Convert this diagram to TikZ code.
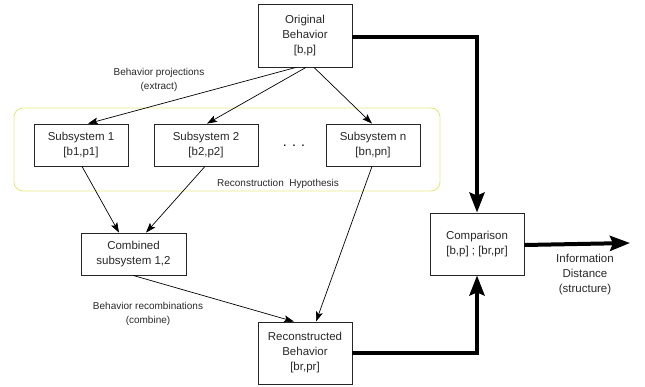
\documentclass[tikz,border=0pt]{standalone}
\usepackage{fontspec}
\setmainfont{Liberation Sans}
\usetikzlibrary{arrows.meta}
\definecolor{hypyellow}{RGB}{232,232,130}
\definecolor{txt}{RGB}{40,40,40}
\tikzset{
  blk/.style={draw=black!85, line width=0.8pt, fill=white, align=center, inner sep=0pt,
    font=\fontsize{11.5}{15}\selectfont, text=txt},
  lbl/.style={align=center, inner sep=0pt, font=\fontsize{10}{14}\selectfont, text=txt},
  thin/.style={draw=black, line width=0.7pt, -{Stealth[length=10pt,width=7pt,inset=2pt]}},
  thick/.style={draw=black, line width=4pt},
  thickarr/.style={thick, -{Stealth[length=20pt,width=15pt,inset=3pt]}}
}
\begin{document}
\begin{tikzpicture}[x=1pt,y=-1pt]
\useasboundingbox (0,0) rectangle (645,386);
% hypothesis frame
\node[draw=hypyellow, line width=0.9pt, rounded corners=9pt, minimum width=426pt, minimum height=83pt, inner sep=0pt] (hyp) at (227,149.5) {};
\node[lbl] (hyplbl) at (278,184) {Reconstruction\ \ Hypothesis};
% boxes
\node[blk, minimum width=94pt, minimum height=63pt] (orig) at (305,35.5) {Original\\Behavior\\{[b,p]}};
\node[blk, minimum width=94pt, minimum height=42pt] (s1) at (81,145) {Subsystem 1\\{[b1,p1]}};
\node[blk, minimum width=104pt, minimum height=42pt] (s2) at (206,145) {Subsystem 2\\{[b2,p2]}};
\node[blk, minimum width=94pt, minimum height=42pt] (sn) at (373,145) {Subsystem n\\{[bn,pn]}};
\node[inner sep=0pt, font=\fontsize{14}{14}\selectfont] (dots) at (294,146) {. . .};
\node[blk, minimum width=105pt, minimum height=42pt] (comb) at (133.5,254) {Combined\\subsystem 1,2};
\node[blk, minimum width=94pt, minimum height=62pt] (rec) at (305,353) {Reconstructed\\Behavior\\{[br,pr]}};
\node[blk, minimum width=94pt, minimum height=62pt] (cmp) at (477,244) {Comparison\\{[b,p] ; [br,pr]}};
% labels
\node[lbl] (proj) at (159,80) {Behavior projections\\(extract)};
\node[lbl] (recomb) at (148,314) {Behavior recombinations\\(combine)};
\node[blk, draw=none, fill=none] (info) at (585,275) {Information\\Distance\\(structure)};
\coordinate (out) at (630,243);
% thin arrows
\draw[thin] ([xshift=-9pt]orig.south) -- ([xshift=7pt]s1.north);
\draw[thin] ([xshift=1pt]orig.south) -- ([xshift=1pt]s2.north);
\draw[thin] ([xshift=9pt]orig.south) -- ([xshift=-1pt]sn.north);
\draw[thin] ([xshift=1pt]s1.south) -- ([xshift=-14.5pt]comb.north);
\draw[thin] ([xshift=-1pt]s2.south) -- ([xshift=12.5pt]comb.north);
\draw[thin] ([xshift=-1pt]sn.south) -- ([xshift=11pt]rec.north);
\draw[thin] ([xshift=-0.5pt]comb.south) -- ([xshift=-11pt]rec.north);
% thick paths
\draw[thickarr] ([yshift=-1.5pt]orig.east) -| (cmp.north);
\draw[thickarr] (rec.east) -| (cmp.south);
\draw[thickarr] ([yshift=-1pt]cmp.east) -- (out);
\end{tikzpicture}
\end{document}
